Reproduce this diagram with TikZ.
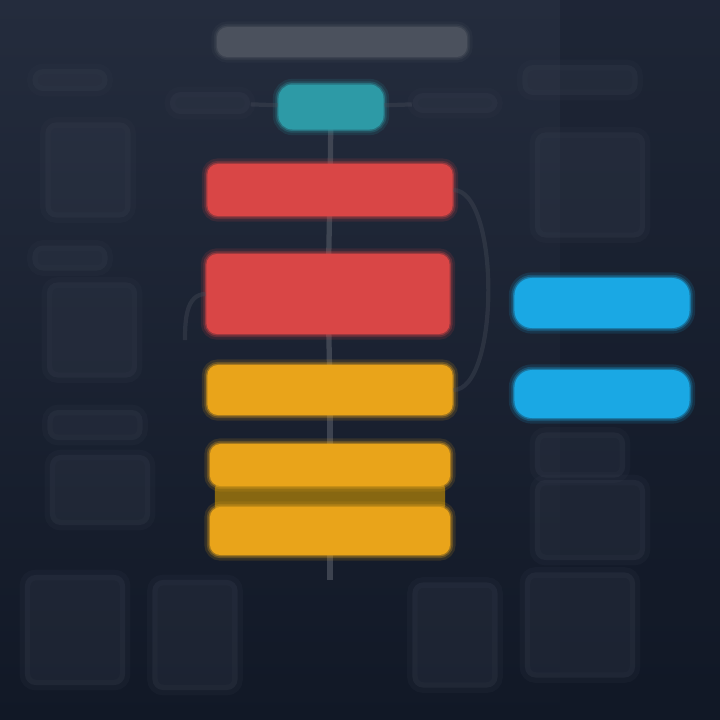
\documentclass[tikz,border=0pt]{standalone}
\usetikzlibrary{positioning}
\definecolor{bgA}{HTML}{242C3D}
\definecolor{bgB}{HTML}{111826}
\definecolor{ttl}{HTML}{4B515D}
\definecolor{tealc}{HTML}{2D9AA6}
\definecolor{redc}{HTML}{D94646}
\definecolor{yelc}{HTML}{E9A41A}
\definecolor{brownc}{HTML}{94700F}
\definecolor{bluec}{HTML}{1AA8E4}
\definecolor{blob}{HTML}{363D4D}
\definecolor{linec}{HTML}{4A505C}
\tikzset{
  glow/.style={preaction={draw=#1,line width=3.2pt,opacity=0.14},
               preaction={draw=#1,line width=1.8pt,opacity=0.25},
               preaction={draw=#1,line width=0.8pt,opacity=0.45}},
  bar/.style={rectangle,rounded corners=3pt,fill=#1,glow=#1,inner sep=0pt},
  blobbox/.style={rectangle,rounded corners=3pt,fill=blob,opacity=0.3,inner sep=0pt,
                  preaction={draw=blob,line width=3pt,opacity=0.15}},
  conn/.style={draw=linec,line width=1.5pt,opacity=0.75},
  faint/.style={draw=linec,line width=1.2pt,opacity=0.35}
}
\begin{document}
\begin{tikzpicture}[x=0.01cm,y=-0.01cm]
\useasboundingbox (0,0) rectangle (720,720);
\shade[top color=bgA,bottom color=bgB] (0,0) rectangle (720,720);
\fill[bgB,opacity=0.3] (560,0) rectangle (720,720);
% side blobs (blurred text)
\node[blobbox,minimum width=0.75cm,minimum height=0.22cm] (bL1) at (70,80) {};
\node[blobbox,minimum width=0.85cm,minimum height=0.95cm] (bL2) at (88,170) {};
\node[blobbox,minimum width=0.75cm,minimum height=0.25cm] (bL3) at (70,258) {};
\node[blobbox,minimum width=0.9cm,minimum height=0.95cm] (bL4) at (92,330) {};
\node[blobbox,minimum width=0.95cm,minimum height=0.3cm] (bL5) at (95,425) {};
\node[blobbox,minimum width=1cm,minimum height=0.7cm] (bL6) at (100,490) {};
\node[blobbox,minimum width=0.8cm,minimum height=0.22cm] (tL) at (210,103) {};
\node[blobbox,minimum width=0.85cm,minimum height=0.2cm] (tR) at (455,103) {};
\node[blobbox,minimum width=1.15cm,minimum height=0.3cm] (bR1) at (580,80) {};
\node[blobbox,minimum width=1.1cm,minimum height=1.05cm] (bR2) at (590,185) {};
\node[blobbox,minimum width=0.9cm,minimum height=0.45cm] (bR3) at (580,455) {};
\node[blobbox,minimum width=1.1cm,minimum height=0.8cm] (bR4) at (590,520) {};
\node[blobbox,minimum width=1cm,minimum height=1.1cm] (bB1) at (75,630) {};
\node[blobbox,minimum width=0.85cm,minimum height=1.1cm] (bB2) at (195,635) {};
\node[blobbox,minimum width=0.85cm,minimum height=1.05cm] (bB3) at (455,635) {};
\node[blobbox,minimum width=1.1cm,minimum height=1.05cm] (bB4) at (580,625) {};
% connectors (under boxes)
\coordinate (end) at (330,580);
\draw[conn] (331,107) -- (330,190);
\draw[conn] (330,190) -- (328,294);
\draw[conn] (328,294) -- (330,390);
\draw[conn] (330,390) -- (330,465);
\draw[conn] (330,531) -- (end);
% title
\node[bar=ttl,minimum width=2.5cm,minimum height=0.3cm] (title) at (342,42) {};
% main column
\node[bar=tealc,rounded corners=4pt,minimum width=1.05cm,minimum height=0.45cm] (teal) at (331,107) {};
\node[bar=redc,minimum width=2.45cm,minimum height=0.52cm] (r1) at (330,190) {};
\node[bar=redc,minimum width=2.43cm,minimum height=0.8cm] (r2) at (328,294) {};
\node[bar=yelc,minimum width=2.45cm,minimum height=0.5cm] (y1) at (330,390) {};
\node[rectangle,rounded corners=2pt,fill=brownc,inner sep=0pt,minimum width=2.3cm,minimum height=0.3cm,opacity=0.9] (yb) at (330,497) {};
\node[bar=yelc,minimum width=2.4cm,minimum height=0.42cm] (y2) at (330,465) {};
\node[bar=yelc,minimum width=2.4cm,minimum height=0.48cm] (y3) at (330,531) {};
\node[bar=bluec,rounded corners=5pt,minimum width=1.75cm,minimum height=0.5cm] (b1) at (602,303) {};
\node[bar=bluec,rounded corners=5pt,minimum width=1.75cm,minimum height=0.48cm] (b2) at (602,394) {};
% faint connectors
\draw[faint] (tL) -- (teal);
\draw[faint] (teal) -- (tR);
\draw[faint] (r1.east) to[out=0,in=0,looseness=0.6] (y1.east);
\draw[faint] (r2.west) to[out=180,in=90] (185,340);
\end{tikzpicture}
\end{document}
